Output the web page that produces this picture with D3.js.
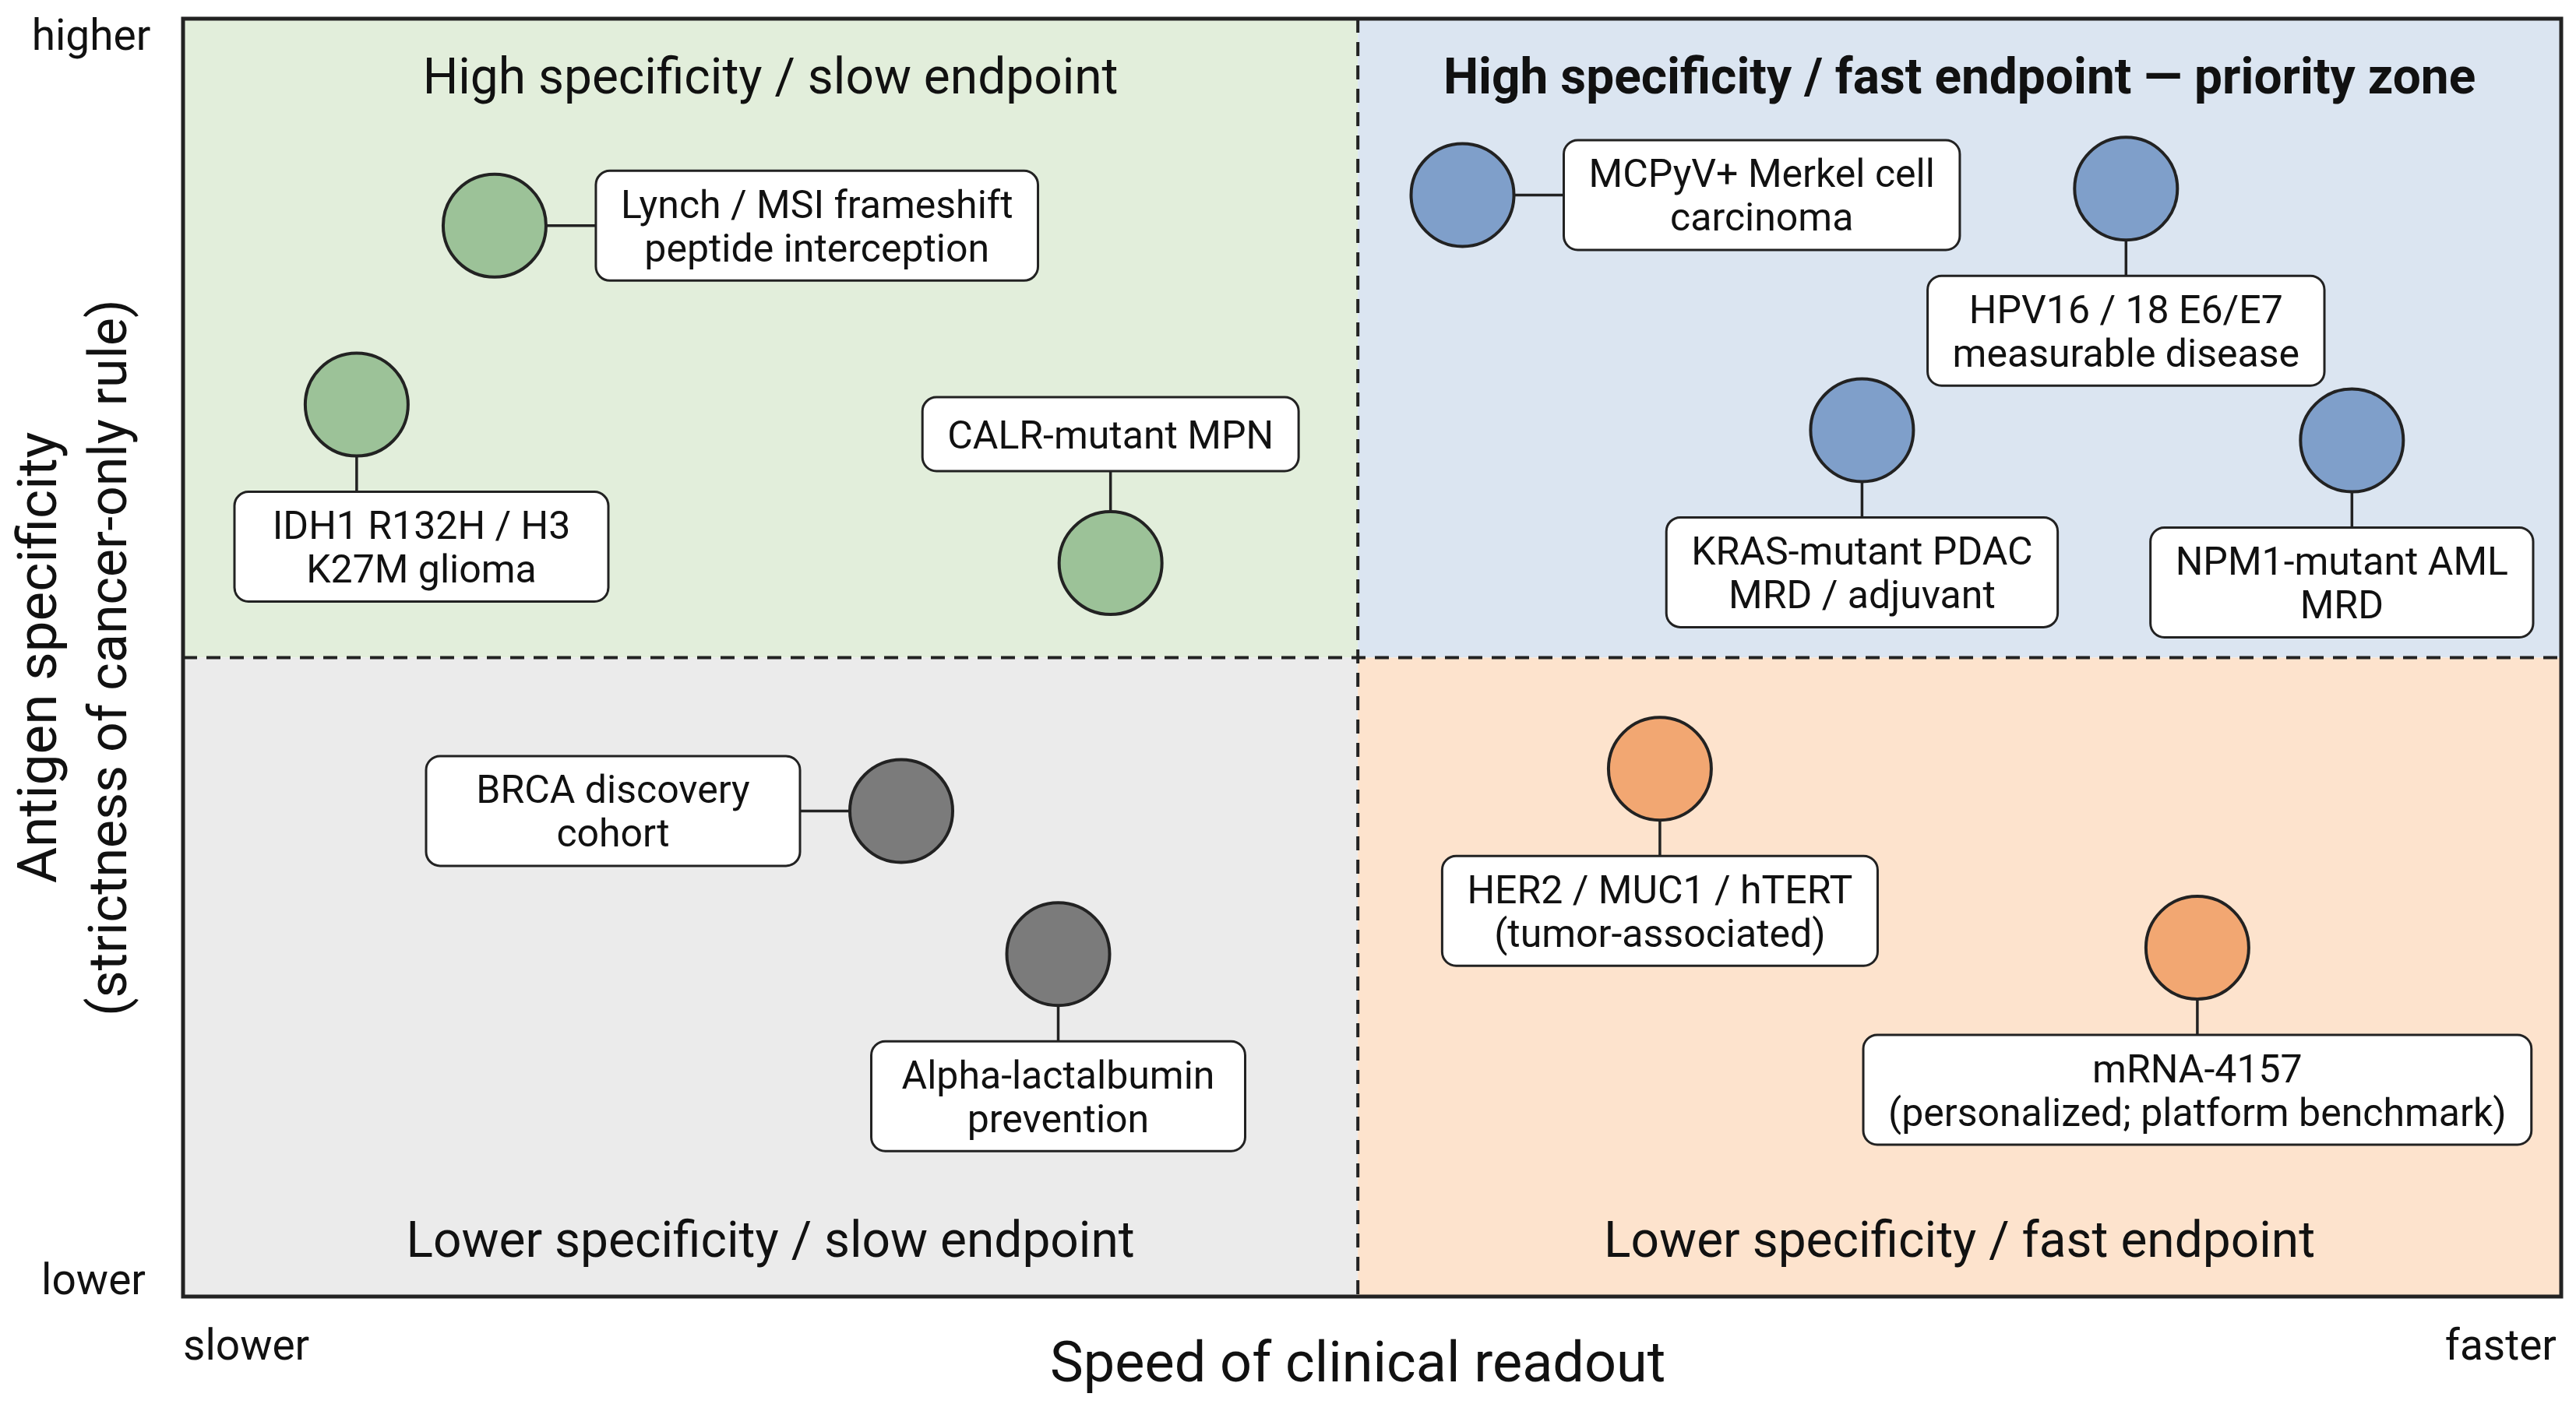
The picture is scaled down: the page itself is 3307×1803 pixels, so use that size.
<!DOCTYPE html>
<html lang="en">
<head>
    <meta charset="UTF-8">
    <script src="https://d3js.org/d3.v7.min.js"></script>
    <title>Specificity vs speed</title>
    <style>
        body { margin: 0; background: #fff; }
        text { font-family: Roboto, "Liberation Sans", sans-serif; fill: #111; }
    </style>
</head>
<body>
<script>
    // Data
    const programs = [
        "Lynch / MSI frameshift peptide interception",
        "IDH1 R132H / H3 K27M glioma",
        "CALR-mutant MPN",
        "MCPyV+ Merkel cell carcinoma",
        "HPV16 / 18 E6/E7 measurable disease",
        "KRAS-mutant PDAC MRD / adjuvant",
        "NPM1-mutant AML MRD",
        "BRCA discovery cohort",
        "Alpha-lactalbumin prevention",
        "HER2 / MUC1 / hTERT (tumor-associated)",
        "mRNA-4157 (personalized; platform benchmark)"
    ];
    const labelLines = [
        ["Lynch / MSI frameshift", "peptide interception"],
        ["IDH1 R132H / H3", "K27M glioma"],
        ["CALR-mutant MPN"],
        ["MCPyV+ Merkel cell", "carcinoma"],
        ["HPV16 / 18 E6/E7", "measurable disease"],
        ["KRAS-mutant PDAC", "MRD / adjuvant"],
        ["NPM1-mutant AML", "MRD"],
        ["BRCA discovery", "cohort"],
        ["Alpha-lactalbumin", "prevention"],
        ["HER2 / MUC1 / hTERT", "(tumor-associated)"],
        ["mRNA-4157", "(personalized; platform benchmark)"]
    ];
    const speed = [1.31, 0.73, 3.90, 5.38, 8.17, 7.06, 9.12, 3.02, 3.68, 6.21, 8.47];
    const specificity = [8.38, 6.98, 5.74, 8.62, 8.67, 6.78, 6.70, 3.80, 2.68, 4.13, 2.73];
    const group = ["TL", "TL", "TL", "TR", "TR", "TR", "TR", "BL", "BL", "BR", "BR"];
    const labelSide = ["right", "below", "above", "right", "below", "below", "below", "left", "below", "below", "below"];

    const quadrants = ["TL", "TR", "BL", "BR"];
    const quadrantTitles = [
        "High specificity / slow endpoint",
        "High specificity / fast endpoint — priority zone",
        "Lower specificity / slow endpoint",
        "Lower specificity / fast endpoint"
    ];
    const xTicks = ["slower", "faster"];
    const yTicks = ["higher", "lower"];
    const xSplit = 4.94, ySplit = 5;

    // Layout
    const W = 3307, H = 1803;
    const margin = {top: 24, right: 19, bottom: 138, left: 235};
    const bg = {TL: "#e2eedb", TR: "#dbe5f1", BL: "#ebebeb", BR: "#fde3cd"};
    const dot = {TL: "#9cc298", TR: "#7f9fca", BL: "#7b7b7b", BR: "#f2a772"};
    const r = 66;

    const svg = d3.select("body").append("svg")
        .attr("width", W)
        .attr("height", H);

    const x = d3.scaleLinear().domain([0, 10]).range([margin.left, W - margin.right]);
    const y = d3.scaleLinear().domain([0, 10]).range([H - margin.bottom, margin.top]);

    // Quadrant backgrounds
    const qx = {L: [0, xSplit], R: [xSplit, 10]};
    const qy = {T: [ySplit, 10], B: [0, ySplit]};
    quadrants.forEach((q, i) => {
        const xs = qx[q[1]], ys = qy[q[0]];
        svg.append("rect")
            .attr("x", x(xs[0])).attr("y", y(ys[1]))
            .attr("width", x(xs[1]) - x(xs[0]))
            .attr("height", y(ys[0]) - y(ys[1]))
            .attr("fill", bg[q]);
        const t = svg.append("text")
            .attr("x", (x(xs[0]) + x(xs[1])) / 2)
            .attr("y", q[0] === "T" ? 120 : 1614)
            .attr("text-anchor", "middle")
            .attr("font-size", 64)
            .text(quadrantTitles[i]);
        if (q === "TR") t.attr("font-weight", "bold");
    });

    // Dashed split lines
    svg.append("line")
        .attr("x1", x(xSplit)).attr("x2", x(xSplit))
        .attr("y1", y(10)).attr("y2", y(0))
        .attr("stroke", "#222").attr("stroke-width", 4)
        .attr("stroke-dasharray", "18,12");
    svg.append("line")
        .attr("x1", x(0)).attr("x2", x(10))
        .attr("y1", y(ySplit)).attr("y2", y(ySplit))
        .attr("stroke", "#222").attr("stroke-width", 4)
        .attr("stroke-dasharray", "18,12");

    // Frame
    svg.append("rect")
        .attr("x", x(0)).attr("y", y(10))
        .attr("width", x(10) - x(0)).attr("height", y(0) - y(10))
        .attr("fill", "none").attr("stroke", "#222").attr("stroke-width", 5);

    // Points with label boxes
    const padX = 32, lineH = 56, fs = 50, minW = 480;
    programs.forEach((name, i) => {
        const cx = x(speed[i]), cy = y(specificity[i]);
        const side = labelSide[i];
        const lines = labelLines[i];
        const g = svg.append("g");

        const conn = g.append("line").attr("stroke", "#222").attr("stroke-width", 3.5);
        const box = g.append("rect")
            .attr("rx", 18).attr("ry", 18)
            .attr("fill", "#fff").attr("stroke", "#222").attr("stroke-width", 3);
        const label = g.append("text")
            .attr("text-anchor", "middle")
            .attr("font-size", fs);
        lines.forEach((l, k) => label.append("tspan").attr("x", 0).attr("dy", k === 0 ? 0 : lineH).text(l));

        const tw = label.node().getBBox().width;
        const bw = Math.max(minW, tw + 2 * padX);
        const bh = lines.length * 46 + 49;

        let bx, by;
        if (side === "right") { bx = cx + r + 64; by = cy - bh / 2; }
        else if (side === "left") { bx = cx - r - 64 - bw; by = cy - bh / 2; }
        else if (side === "below") { bx = cx - bw / 2; by = cy + r + 46; }
        else { bx = cx - bw / 2; by = cy - r - 52 - bh; }
        bx = Math.max(x(0) + 66, Math.min(bx, x(10) - 36 - bw));

        box.attr("x", bx).attr("y", by).attr("width", bw).attr("height", bh);
        const textTop = by + bh / 2 - (lines.length - 1) * lineH / 2 + fs * 0.36;
        label.attr("transform", "translate(" + (bx + bw / 2) + "," + textTop + ")");

        if (side === "right") conn.attr("x1", cx).attr("y1", cy).attr("x2", bx).attr("y2", cy);
        else if (side === "left") conn.attr("x1", cx).attr("y1", cy).attr("x2", bx + bw).attr("y2", cy);
        else if (side === "below") conn.attr("x1", cx).attr("y1", cy).attr("x2", cx).attr("y2", by);
        else conn.attr("x1", cx).attr("y1", cy).attr("x2", cx).attr("y2", by + bh);

        g.append("circle")
            .attr("cx", cx).attr("cy", cy).attr("r", r)
            .attr("fill", dot[group[i]])
            .attr("stroke", "#222").attr("stroke-width", 4);
    });

    // Axis end labels
    svg.append("text").attr("x", x(0)).attr("y", 1746).attr("font-size", 55).text(xTicks[0]);
    svg.append("text").attr("x", x(10) - 6).attr("y", 1746).attr("text-anchor", "end").attr("font-size", 55).text(xTicks[1]);
    svg.append("text").attr("x", 117).attr("y", y(10) + 40).attr("text-anchor", "middle").attr("font-size", 55).text(yTicks[0]);
    svg.append("text").attr("x", 120).attr("y", y(0) - 3).attr("text-anchor", "middle").attr("font-size", 55).text(yTicks[1]);

    // Axis titles
    svg.append("text")
        .attr("x", x(xSplit)).attr("y", 1774)
        .attr("text-anchor", "middle").attr("font-size", 72)
        .text("Speed of clinical readout");
    svg.append("text")
        .attr("transform", "translate(72," + y(ySplit) + ") rotate(-90)")
        .attr("text-anchor", "middle").attr("font-size", 71)
        .text("Antigen specificity");
    svg.append("text")
        .attr("transform", "translate(162," + y(ySplit) + ") rotate(-90)")
        .attr("text-anchor", "middle").attr("font-size", 68)
        .text("(strictness of cancer-only rule)");
</script>
</body>
</html>
